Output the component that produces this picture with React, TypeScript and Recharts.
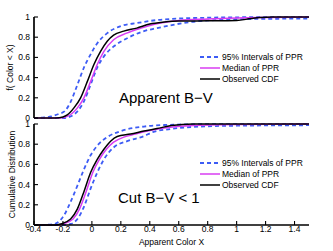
import React from 'react';
import { LineChart, Line, XAxis, YAxis, Legend } from 'recharts';

const xTicks = [-0.4, -0.2, 0, 0.2, 0.4, 0.6, 0.8, 1, 1.2, 1.4];
const yTicks = [0, 0.2, 0.4, 0.6, 0.8, 1];
const legendLabels = ['95% Intervals of PPR', 'Median of PPR', 'Observed CDF'];

// Top panel: Apparent B-V
const topObserved = [[-0.4, 0], [-0.25, 0], [-0.2, 0.01], [-0.17, 0.03], [-0.124, 0.1], [-0.078, 0.2], [-0.032, 0.36], [0.014, 0.53], [0.06, 0.66], [0.106, 0.76], [0.15, 0.82], [0.22, 0.86], [0.31, 0.89], [0.4, 0.93], [0.5, 0.95], [0.6, 0.96], [0.8, 0.962], [1.0, 0.965], [1.1, 0.985], [1.16, 0.995], [1.25, 1], [1.5, 1]];
const topMedian = [[-0.4, 0], [-0.22, 0], [-0.17, 0.016], [-0.1, 0.1], [-0.055, 0.2], [-0.009, 0.36], [0.037, 0.53], [0.083, 0.66], [0.15, 0.775], [0.24, 0.84], [0.34, 0.89], [0.44, 0.93], [0.6, 0.965], [0.8, 0.98], [1.0, 0.99], [1.2, 0.995], [1.5, 1]];
const topUpper = [[-0.4, 0], [-0.33, 0.005], [-0.28, 0.016], [-0.23, 0.04], [-0.19, 0.065], [-0.147, 0.16], [-0.1, 0.33], [-0.055, 0.5], [-0.009, 0.63], [0.037, 0.74], [0.106, 0.84], [0.2, 0.91], [0.31, 0.94], [0.45, 0.97], [0.6, 0.985], [0.8, 0.993], [1.0, 0.997], [1.5, 1]];
const topLower = [[-0.4, 0], [-0.2, 0], [-0.147, 0.016], [-0.1, 0.065], [-0.055, 0.165], [-0.009, 0.33], [0.037, 0.5], [0.083, 0.61], [0.152, 0.71], [0.244, 0.79], [0.36, 0.86], [0.45, 0.89], [0.54, 0.917], [0.68, 0.95], [0.865, 0.97], [1.09, 0.98], [1.3, 0.983], [1.5, 0.985]];

// Bottom panel: Cut B-V < 1
const botObserved = [[-0.4, 0], [-0.25, 0], [-0.216, 0.01], [-0.147, 0.06], [-0.1, 0.16], [-0.055, 0.33], [-0.009, 0.52], [0.037, 0.65], [0.083, 0.75], [0.129, 0.83], [0.175, 0.877], [0.267, 0.9], [0.36, 0.93], [0.45, 0.955], [0.55, 0.985], [0.7, 1], [1.5, 1]];
const botMedian = [[-0.4, 0], [-0.23, 0], [-0.2, 0.01], [-0.13, 0.06], [-0.085, 0.16], [-0.04, 0.33], [0.006, 0.52], [0.052, 0.65], [0.1, 0.75], [0.15, 0.82], [0.22, 0.87], [0.3, 0.9], [0.4, 0.935], [0.5, 0.96], [0.7, 0.985], [1.0, 0.995], [1.5, 1]];
const botUpper = [[-0.4, 0], [-0.32, 0.002], [-0.26, 0.01], [-0.193, 0.095], [-0.147, 0.23], [-0.1, 0.39], [-0.055, 0.55], [-0.009, 0.69], [0.037, 0.785], [0.106, 0.87], [0.2, 0.93], [0.36, 0.975], [0.5, 0.99], [0.8, 0.998], [1.5, 1]];
const botLower = [[-0.4, 0], [-0.2, 0], [-0.147, 0.01], [-0.1, 0.06], [-0.055, 0.18], [-0.009, 0.36], [0.037, 0.52], [0.083, 0.65], [0.152, 0.77], [0.244, 0.83], [0.36, 0.88], [0.42, 0.92], [0.54, 0.95], [0.75, 0.975], [1.0, 0.983], [1.5, 0.988]];

const BLUE = '#3d5cf5';
const MAGENTA = '#d83cf2';
const BLACK = '#000';
const FONT = '"Liberation Sans", Arial, Helvetica, sans-serif';

const toPts = (arr: number[][]) => arr.map(([x, v]) => ({ x, v }));
const fmt = (v: number) => String(Math.round(v * 10) / 10);

const legendStyles = [
  { color: BLUE, dash: '4 3', w: 1.8 },
  { color: MAGENTA, dash: undefined, w: 1.5 },
  { color: BLACK, dash: undefined, w: 1.5 },
];

const LegendBox = () => (
  <div style={{ fontFamily: FONT, fontSize: 8.5, color: '#000' }}>
    {legendLabels.map((lab, i) => (
      <div key={lab} style={{ display: 'flex', alignItems: 'center', height: 11, whiteSpace: 'nowrap' }}>
        <svg width={22} height={4} style={{ display: 'block' }}>
          <line x1={0} y1={2} x2={20} y2={2} stroke={legendStyles[i].color} strokeWidth={legendStyles[i].w} strokeDasharray={legendStyles[i].dash} />
        </svg>
        <span style={{ lineHeight: '11px' }}>{lab}</span>
      </div>
    ))}
  </div>
);

type PanelProps = {
  upper: number[][];
  lower: number[][];
  median: number[][];
  observed: number[][];
  yLabel: string;
  yLabelX: number;
  showX: boolean;
  height: number;
  marginTop: number;
  xAxisHeight: number;
  legendTop: number;
};

const Panel = (p: PanelProps) => {
  const plotMid = p.marginTop + 101 / 2;
  const axisLine = { stroke: '#000', strokeWidth: 1.7 };
  const tickLine = { stroke: '#000', strokeWidth: 1.1 };
  return (
    <LineChart width={333} height={p.height} margin={{ top: p.marginTop, right: 24, bottom: p.showX ? 0 : p.height - p.marginTop - 101, left: 0 }}>
      <XAxis
        dataKey="x"
        type="number"
        domain={[-0.4, 1.5]}
        ticks={xTicks}
        allowDataOverflow
        height={p.showX ? p.xAxisHeight : 0}
        tickSize={-4}
        tickMargin={5}
        axisLine={axisLine}
        tickLine={tickLine}
        tick={p.showX ? { fill: '#000', fontSize: 8.5 } : false}
        tickFormatter={fmt}
        interval={0}
        label={p.showX ? {
          content: () => (
            <text x={171.5} y={p.height - 6.5} textAnchor="middle" fontSize={8.5} fill="#000" fontFamily={FONT}>Apparent Color X</text>
          ),
        } : undefined}
      />
      <XAxis xAxisId="top" orientation="top" dataKey="x" type="number" domain={[-0.4, 1.5]} ticks={xTicks} allowDataOverflow height={0} tickSize={-4} axisLine={axisLine} tickLine={tickLine} tick={false} interval={0} />
      <YAxis
        type="number"
        domain={[0, 1]}
        ticks={yTicks}
        width={34}
        tickSize={-4}
        tickMargin={8}
        axisLine={axisLine}
        tickLine={tickLine}
        tick={{ fill: '#000', fontSize: 8.5 }}
        tickFormatter={fmt}
        interval={0}
        label={{
          content: () => (
            <text x={p.yLabelX} y={plotMid} transform={`rotate(-90 ${p.yLabelX} ${plotMid})`} textAnchor="middle" dominantBaseline="central" fontSize={8.5} fill="#000" fontFamily={FONT}>{p.yLabel}</text>
          ),
        }}
      />
      <YAxis yAxisId="right" orientation="right" type="number" domain={[0, 1]} ticks={yTicks} width={0} tickSize={-4} axisLine={axisLine} tickLine={tickLine} tick={false} interval={0} />
      <Legend
        layout="vertical"
        align="center"
        verticalAlign="middle"
        wrapperStyle={{ left: 200, top: p.legendTop, width: 'auto', height: 'auto' }}
        content={() => <LegendBox />}
      />
      <Line data={toPts(p.upper)} dataKey="v" type="monotone" stroke={BLUE} strokeWidth={1.8} strokeDasharray="4 3" dot={false} isAnimationActive={false} name="95% Intervals of PPR" />
      <Line data={toPts(p.lower)} dataKey="v" type="monotone" stroke={BLUE} strokeWidth={1.8} strokeDasharray="4 3" dot={false} isAnimationActive={false} legendType="none" />
      <Line data={toPts(p.median)} dataKey="v" type="monotone" stroke={MAGENTA} strokeWidth={1.5} dot={false} isAnimationActive={false} name="Median of PPR" />
      <Line data={toPts(p.observed)} dataKey="v" type="monotone" stroke={BLACK} strokeWidth={1.5} dot={false} isAnimationActive={false} name="Observed CDF" />
    </LineChart>
  );
};

export default function App() {
  return (
    <div style={{ position: 'fixed', left: 0, top: 0, width: 333, height: 251, background: '#fff', fontFamily: FONT, overflow: 'hidden' }}>
      <div style={{ position: 'absolute', left: 0, top: 0 }}>
        <Panel upper={topUpper} lower={topLower} median={topMedian} observed={topObserved} yLabel="f( Color < X)" yLabelX={10} showX={false} height={122} marginTop={17} xAxisHeight={0} legendTop={51.5} />
      </div>
      <div style={{ position: 'absolute', left: 0, top: 120 }}>
        <Panel upper={botUpper} lower={botLower} median={botMedian} observed={botObserved} yLabel="Cumulative Distribution" yLabelX={11.5} showX={true} height={131} marginTop={4} xAxisHeight={26} legendTop={37.5} />
      </div>
      <div style={{ position: 'absolute', left: 119, top: 90.3, fontSize: 15, lineHeight: '15px', color: '#000', whiteSpace: 'nowrap' }}>Apparent B−V</div>
      <div style={{ position: 'absolute', left: 118, top: 190.3, fontSize: 15, lineHeight: '15px', color: '#000', whiteSpace: 'nowrap' }}>Cut B−V &lt; 1</div>
    </div>
  );
}
